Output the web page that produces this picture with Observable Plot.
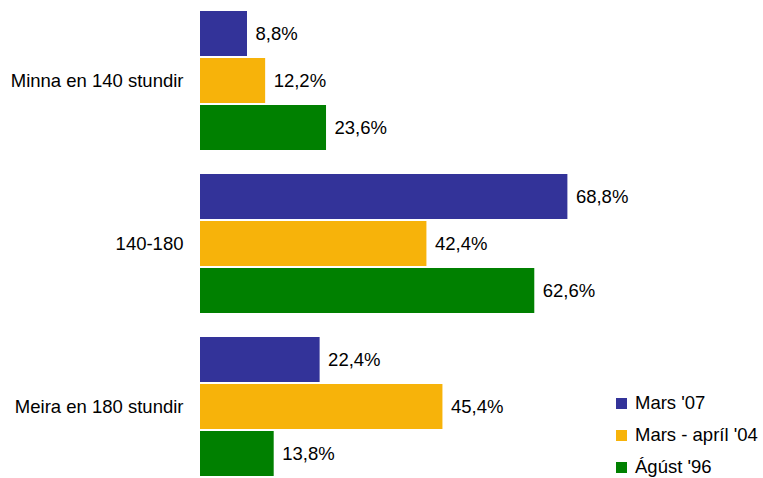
<!DOCTYPE html>
<html><head><meta charset="utf-8">
<script src="https://cdn.jsdelivr.net/npm/d3@7"></script>
<script src="https://cdn.jsdelivr.net/npm/@observablehq/plot@0.6"></script>
<style>
body{margin:0;background:#fff;font-family:"Liberation Sans",Arial,sans-serif;}
#wrap{position:relative;width:763px;height:478px;overflow:hidden;}
#legend{position:absolute;left:616px;top:387px;font-size:18.5px;color:#000;}
#legend .row{display:flex;align-items:center;height:32px;}
#legend .sw{width:11px;height:11px;margin-right:8px;flex:none;}
</style></head><body><div id="wrap"></div>
<script>
const categories = ["Minna en 140 stundir", "140-180", "Meira en 180 stundir"];
const series = ["Mars '07", "Mars - apríl '04", "Ágúst '96"];
const colors = ["#333399", "#f7b30a", "#008000"];
const mars07 = [8.8, 68.8, 22.4];
const marsApril04 = [12.2, 42.4, 45.4];
const agust96 = [23.6, 62.6, 13.8];

const seriesValues = [mars07, marsApril04, agust96];
const data = [];
categories.forEach((c, i) => {
  series.forEach((s, j) => {
    data.push({category: c, series: s, value: seriesValues[j][i]});
  });
});
const fmt = v => v.toFixed(1).replace(".", ",") + "%";

const chart = Plot.plot({
  width: 763,
  height: 478,
  marginLeft: 200,
  marginRight: 29,
  marginTop: 10,
  marginBottom: 1,
  style: {fontFamily: '"Liberation Sans", Arial, sans-serif', fontSize: "18.5px", color: "#000", background: "#fff"},
  x: {domain: [0, 100], axis: null},
  y: {domain: series, axis: null, paddingInner: 0.05, paddingOuter: 0},
  fy: {domain: categories, paddingInner: 0.135, paddingOuter: 0, label: null},
  color: {domain: series, range: colors},
  marks: [
    Plot.barX(data, {x: "value", y: "series", fy: "category", fill: "series"}),
    Plot.text(data, {x: "value", y: "series", fy: "category", text: d => fmt(d.value), dx: 8, textAnchor: "start", fontSize: 18.5, fill: "#000"}),
    Plot.axisFy({anchor: "left", tickSize: 0, tickPadding: 17, fontSize: 18.5, label: null})
  ]
});
const wrap = document.getElementById("wrap");
wrap.appendChild(chart);

const legend = document.createElement("div");
legend.id = "legend";
series.forEach((s, i) => {
  const row = document.createElement("div");
  row.className = "row";
  const sw = document.createElement("span");
  sw.className = "sw";
  sw.style.background = colors[i];
  const t = document.createElement("span");
  t.textContent = s;
  row.appendChild(sw);
  row.appendChild(t);
  legend.appendChild(row);
});
wrap.appendChild(legend);
</script>
</body></html>
